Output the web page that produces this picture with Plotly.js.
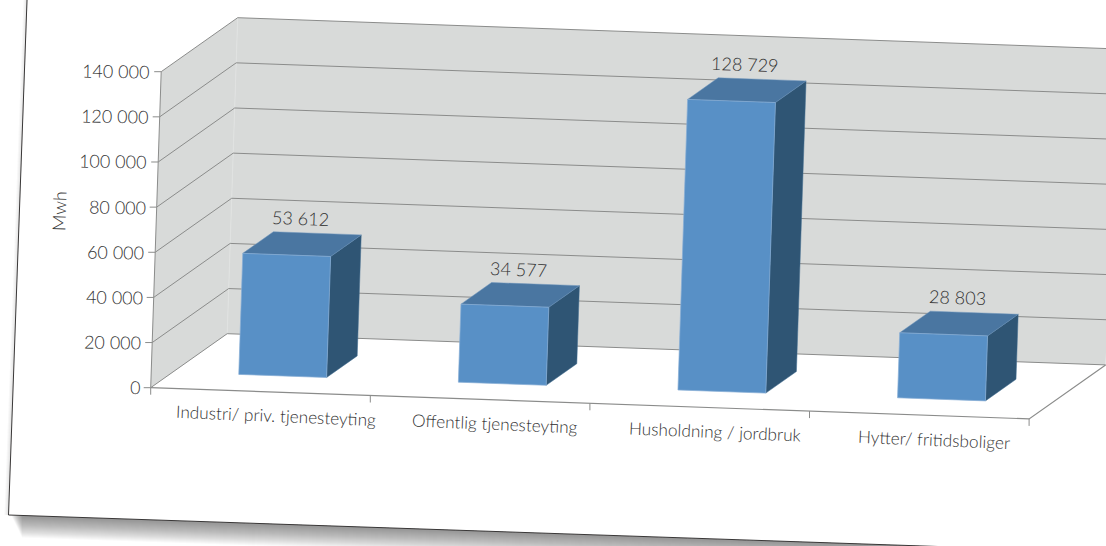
<!DOCTYPE html>
<html><head><meta charset="utf-8">
<script src="https://cdn.plot.ly/plotly-3.0.1.min.js"></script>
<style>html,body{margin:0;padding:0;background:#fff;overflow:hidden}</style>
</head><body><div id="chart" style="width:1106px;height:546px"></div>
<script>
const categories = ["Industri/ priv. tjenesteyting","Offentlig tjenesteyting","Husholdning / jordbruk","Hytter/ fritidsboliger"];
const values = [53612,34577,128729,28803];
const valueLabels = ["53 612","34 577","128 729","28 803"];
const tickValues = [0,20000,40000,60000,80000,100000,120000,140000];
const tickLabels = ["0","20 000","40 000","60 000","80 000","100 000","120 000","140 000"];
const axisTitle = "Mwh";
const vMax = 140000;
const nCat = categories.length;

// oblique projection: category position, value, depth -> picture
function P(c,v,d){
  return [150.7 + 219.6*c + 10.5*v/vMax + 76.5*d,
          387.7 + 7.8*c - 316*v/vMax - 54*d];
}
const traces=[];
function poly(pts,fill,line,name){
  const p=pts.concat([pts[0]]);
  traces.push({type:'scatter',mode:'lines',x:p.map(q=>q[0]),y:p.map(q=>q[1]),fill:'toself',fillcolor:fill,
    line:line||{width:0},hoverinfo:'skip',showlegend:false,name:name||''});
}
function seg(pts,color,width){
  traces.push({type:'scatter',mode:'lines',x:pts.map(q=>q[0]),y:pts.map(q=>q[1]),
    line:{color:color,width:width},hoverinfo:'skip',showlegend:false});
}
const wall='#d8dad9', grid='#8b8c8b';
poly([P(0,0,0),P(0,vMax,0),P(0,vMax,1),P(0,0,1)],wall);
poly([P(0,0,1),P(0,vMax,1),P(nCat,vMax,1),P(nCat,0,1)],wall);
seg([P(0,0,1),P(0,vMax,1)],'#e0e2e1',1);
tickValues.forEach(v=>{
  seg([P(0,v,0),P(0,v,1),P(nCat,v,1)],grid,1);
  const a=P(0,v,0); seg([[a[0]-7,a[1]],a],grid,1);
});
seg([P(0,0,0),P(0,vMax,0)],grid,1);
seg([P(0,0,0),P(nCat,0,0),P(nCat,0,1)],grid,1.2);
for(let c=0;c<=nCat;c++){const a=P(c,0,0);seg([a,[a[0],a[1]+7]],grid,1);}

const w0=0.3,w1=0.7,d0=0.29,d1=0.69;
values.forEach((v,i)=>{
  poly([P(i+w1,0,d0),P(i+w1,v,d0),P(i+w1,v,d1),P(i+w1,0,d1)],'#2f5574',{width:0.5,color:'#3f6a8f'},categories[i]);
  poly([P(i+w0,v,d0),P(i+w1,v,d0),P(i+w1,v,d1),P(i+w0,v,d1)],'#4a76a1',{width:0.5,color:'#6a93ba'},categories[i]);
  poly([P(i+w0,0,d0),P(i+w1,0,d0),P(i+w1,v,d0),P(i+w0,v,d0)],'#5890c6',{width:0.7,color:'#86aed6'},categories[i]);
});

const fontFam='Lato, "Open Sans", sans-serif';
const tf={family:fontFam,size:18,color:'#333333',weight:300};
const ann=[];
tickValues.forEach((v,i)=>{
  const a=P(0,v,0);
  ann.push({x:a[0]-8.5,y:a[1]-0.5,text:tickLabels[i],xanchor:'right',yanchor:'middle',showarrow:false,textangle:1,font:tf,xref:'x',yref:'y'});
});
categories.forEach((t,i)=>{
  const a=P(i+0.5,0,0);
  ann.push({x:a[0]+15,y:a[1]+24,text:t,xanchor:'center',yanchor:'middle',showarrow:false,textangle:2.4,font:{...tf,size:17.2},xref:'x',yref:'y'});
});
values.forEach((v,i)=>{
  const a=P(i+0.5,v,0.5);
  ann.push({x:a[0]-2.5,y:a[1]-25.5,text:valueLabels[i],xanchor:'center',yanchor:'middle',showarrow:false,textangle:2,font:tf,xref:'x',yref:'y'});
});
ann.push({x:59,y:211,text:axisTitle,xanchor:'center',yanchor:'middle',showarrow:false,textangle:-88,font:{...tf,size:18},xref:'x',yref:'y'});

// sheet edge and its drop shadow
const shapes=[];
const ex=x=>515+(x-8)*0.0339;
for(let i=22;i>=1;i--){
  const x0=11+i*0.5;
  shapes.push({type:'path',xref:'x',yref:'y',layer:'below',
    path:`M ${x0} ${ex(x0)} L 1000 ${ex(1000)} L 1000 ${ex(1000)+i} L ${x0} ${ex(x0)+i} Z`,
    fillcolor:'rgba(60,50,50,0.03)',line:{width:0}});
}
for(let i=4;i>=1;i--){
  shapes.push({type:'path',xref:'x',yref:'y',layer:'below',
    path:`M ${27.5-i} 0 L ${8.5-i} 515 L ${8.5} 515 L 27.5 0 Z`,fillcolor:'rgba(60,60,60,0.035)',line:{width:0}});
}
shapes.push({type:'path',xref:'x',yref:'y',layer:'below',path:'M 27 0 L 8.5 515 L 1000 548.6',
  line:{color:'#3a3838',width:1}});

Plotly.newPlot('chart',traces,{
  width:1106,height:546,margin:{l:0,r:0,t:0,b:0},paper_bgcolor:'#fff',plot_bgcolor:'rgba(0,0,0,0)',
  xaxis:{range:[0,1106],visible:false,fixedrange:true},
  yaxis:{range:[546,0],visible:false,fixedrange:true},
  showlegend:false,annotations:ann,shapes:shapes
},{displayModeBar:false,staticPlot:true});
</script></body></html>
